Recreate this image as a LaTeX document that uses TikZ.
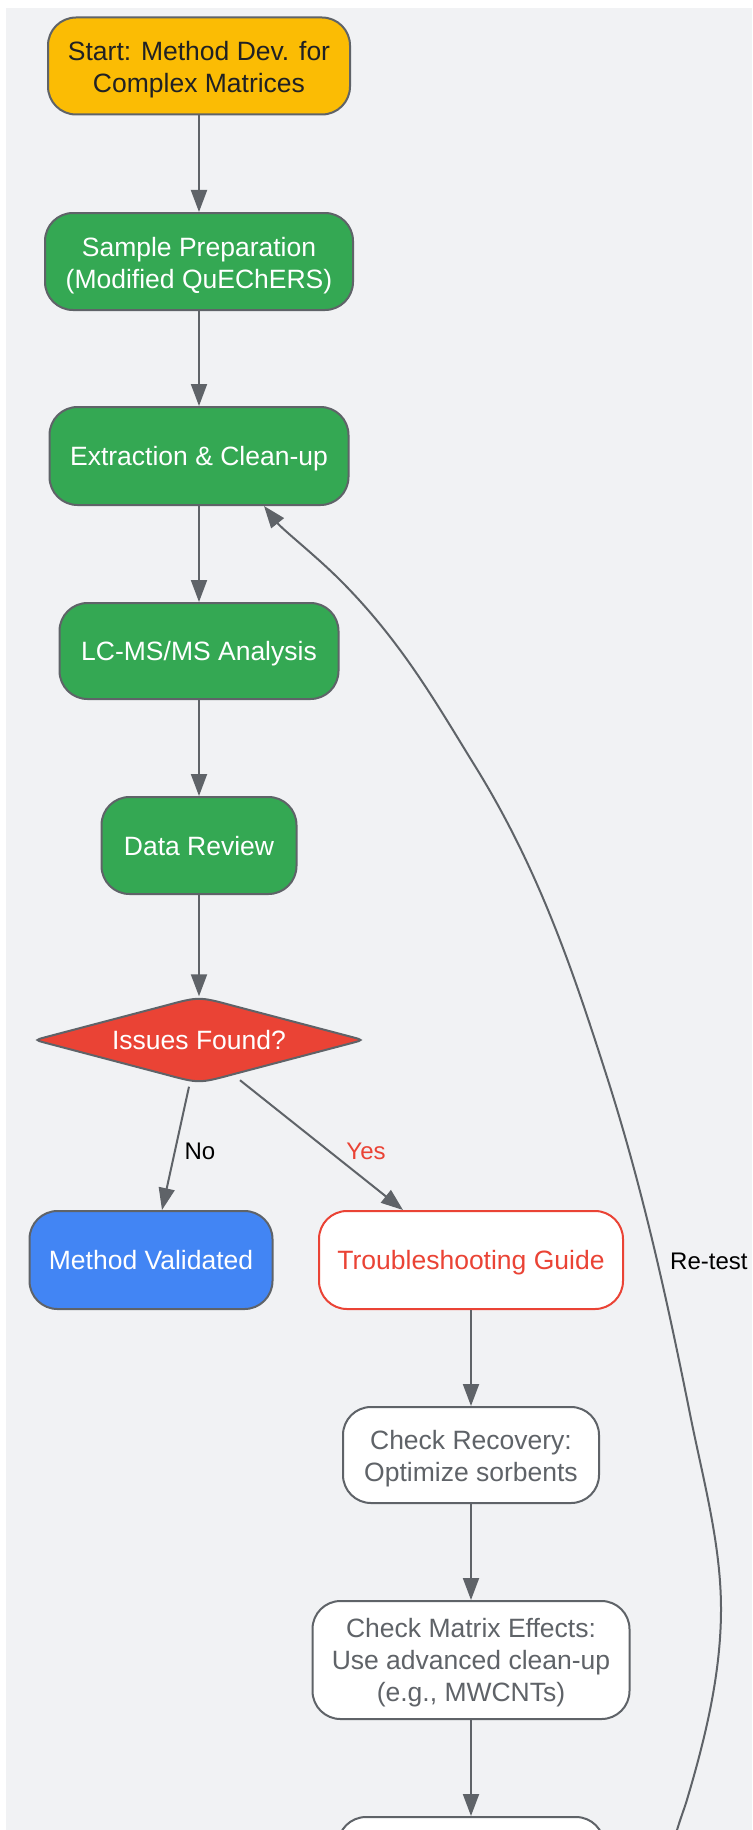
\documentclass[tikz,border=0pt]{standalone}
\usepackage{fontspec}
\setmainfont{Liberation Sans}
\usetikzlibrary{arrows.meta,calc}
\definecolor{bgc}{HTML}{F1F2F4}
\definecolor{edgec}{HTML}{5F6368}
\definecolor{yel}{HTML}{FBBC04}
\definecolor{grn}{HTML}{34A853}
\definecolor{redc}{HTML}{EA4335}
\definecolor{blu}{HTML}{4285F4}
\definecolor{dark}{HTML}{202124}
\newcommand\myNodeFont{\fontsize{26.5}{32}\selectfont}
\newcommand\myLblFont{\fontsize{24}{29}\selectfont}
\begin{document}
\begin{tikzpicture}[x=1pt,y=-1pt,
  box/.style={draw=edgec, line width=2pt, rounded corners=28pt, align=center, inner sep=0pt, font=\myNodeFont, text height=25pt, text depth=5.6pt},
  twoline/.style={text height=59.5pt},
  threeline/.style={text height=89.5pt},
  yelbox/.style={box, fill=yel, text=dark},
  grnbox/.style={box, fill=grn, text=white},
  blubox/.style={box, fill=blu, text=white},
  redbox/.style={box, fill=white, draw=redc, text=redc},
  graybox/.style={box, fill=white, text=edgec},
  edge/.style={draw=edgec, line width=2pt, -{Triangle[length=22pt,width=16pt]}},
  lbl/.style={font=\myLblFont, inner sep=0pt}
]
\useasboundingbox (0,0) rectangle (752,1830);
\fill[bgc] (6,8) rectangle (752,1830);

\node[yelbox, twoline, minimum width=302pt, minimum height=97pt] (start) at (199,66) {Start: Method Dev. for\\Complex Matrices};
\node[grnbox, twoline, minimum width=308pt, minimum height=97pt] (prep) at (199,261.5) {Sample Preparation\\(Modified QuEChERS)};
\node[grnbox, minimum width=299pt, minimum height=98pt] (extract) at (199,456) {Extraction \& Clean-up};
\node[grnbox, minimum width=279pt, minimum height=96pt] (lcms) at (199,651) {LC-MS/MS Analysis};
\node[grnbox, minimum width=195pt, minimum height=97pt] (review) at (199,845.5) {Data Review};

% decision diamond
\coordinate (ic) at (199,1040);
\filldraw[fill=redc, draw=edgec, line width=2pt]
  ($(ic)+(-34,-34.3)$) .. controls ($(ic)+(0,-43.5)$) .. ($(ic)+(34,-34.3)$)
  -- ($(ic)+(154,-2.7)$) .. controls ($(ic)+(164,0)$) .. ($(ic)+(154,2.7)$)
  -- ($(ic)+(34,34.3)$) .. controls ($(ic)+(0,43.5)$) .. ($(ic)+(-34,34.3)$)
  -- ($(ic)+(-154,2.7)$) .. controls ($(ic)+(-164,0)$) .. ($(ic)+(-154,-2.7)$)
  -- cycle;
\node[minimum width=328pt, minimum height=87pt, inner sep=0pt, text=white, font=\myNodeFont] (issues) at (ic) {Issues Found?};

\node[blubox, minimum width=243pt, minimum height=98pt] (valid) at (151,1260) {Method Validated};
\node[redbox, minimum width=304pt, minimum height=98pt] (trouble) at (471,1260) {Troubleshooting Guide};
\node[graybox, twoline, minimum width=256pt, minimum height=96pt] (recov) at (471,1455) {Check Recovery:\\Optimize sorbents};
\node[graybox, threeline, minimum width=317pt, minimum height=118pt] (matrix) at (471,1660) {Check Matrix Effects:\\Use advanced clean-up\\(e.g., MWCNTs)};
\node[graybox, minimum width=266pt, minimum height=97pt] (next) at (471,1865.5) {};

\draw[edge] (start) -- (prep);
\draw[edge] (prep) -- (extract);
\draw[edge] (extract) -- (lcms);
\draw[edge] (lcms) -- (review);
\draw[edge] (review) -- (issues.north);
\draw[edge] ($(issues.south)+(-10,3)$) -- ($(valid.north)+(11,0)$);
\draw[edge] ($(issues.south)+(41,-3.5)$) -- ($(trouble.north)+(-68,0)$);
\draw[edge] (trouble) -- (recov);
\draw[edge] (recov) -- (matrix);
\draw[edge] (matrix) -- (next);

\coordinate (rtEnd) at ($(extract.south)+(65,0)$);
\draw[edge] (next.east) .. controls (660,1866) and (673,1852) .. (677,1830)
  .. controls (680,1820) and (683,1812) .. (686,1803)
  .. controls (705.4,1738.3) and (721,1673.7) .. (721,1609)
  .. controls (721,1544) and (703,1479) .. (690,1414)
  .. controls (667.5,1301.7) and (642.9,1189.3) .. (607,1077)
  .. controls (573.8,973.3) and (539.3,869.7) .. (475,766)
  .. controls (436.6,704) and (402,642) .. (340,580)
  .. controls (315,555) and (283,530) .. (rtEnd);

\node[lbl] (nolbl) at (200,1151) {No};
\node[lbl, text=redc] (yeslbl) at (366,1151) {Yes};
\node[lbl, anchor=west] (retestlbl) at (670,1261) {Re-test};
\end{tikzpicture}
\end{document}
